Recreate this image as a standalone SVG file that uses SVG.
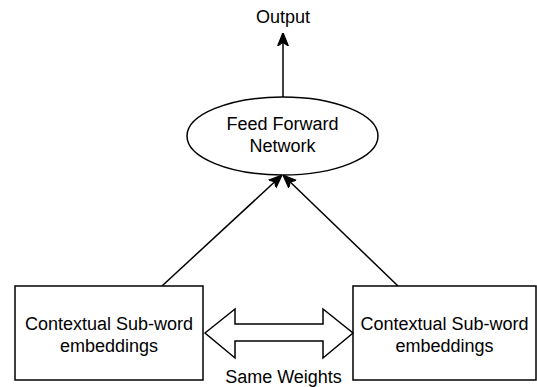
<svg xmlns="http://www.w3.org/2000/svg" width="537" height="387" viewBox="0 0 537 387">
<style>
.shape{fill:#ffffff;stroke:#000000;stroke-width:1.5}
.line{fill:none;stroke:#000000;stroke-width:1.5}
text{font-family:"Liberation Sans",Arial,sans-serif;font-size:18px;fill:#000000;text-anchor:middle}
</style>
<defs>
<marker id="arrow" viewBox="0 0 10 10" refX="9" refY="5" markerWidth="13" markerHeight="13" markerUnits="userSpaceOnUse" orient="auto">
<path d="M0,1 L10,5 L0,9 L2.5,5 Z" fill="#000000" stroke="#000000" stroke-width="1"/>
</marker>
</defs>
<rect width="537" height="387" fill="#ffffff"/>
<g id="connectors">
<line class="line" x1="283" y1="97" x2="283" y2="34" marker-end="url(#arrow)"/>
<line class="line" x1="162" y1="286" x2="281" y2="176" marker-end="url(#arrow)"/>
<line class="line" x1="398" y1="286" x2="284" y2="176" marker-end="url(#arrow)"/>
</g>
<g id="output">
<text x="283" y="23">Output</text>
</g>
<g id="ffn">
<ellipse class="shape" cx="282.5" cy="136" rx="95.5" ry="39"/>
<text x="282.5" y="130">Feed Forward</text>
<text x="282.5" y="152">Network</text>
</g>
<g id="left-embeddings">
<rect class="shape" x="15" y="286" width="188" height="94"/>
<text x="109" y="330">Contextual Sub-word</text>
<text x="109" y="352">embeddings</text>
</g>
<g id="right-embeddings">
<rect class="shape" x="353" y="286" width="183" height="94"/>
<text x="444.5" y="330">Contextual Sub-word</text>
<text x="444.5" y="352">embeddings</text>
</g>
<g id="same-weights">
<path class="shape" d="M205,333 L235,309 L235,324 L323,324 L323,309 L353,333 L323,358 L323,341 L235,341 L235,358 Z"/>
<text x="283.5" y="383">Same Weights</text>
</g>
</svg>
